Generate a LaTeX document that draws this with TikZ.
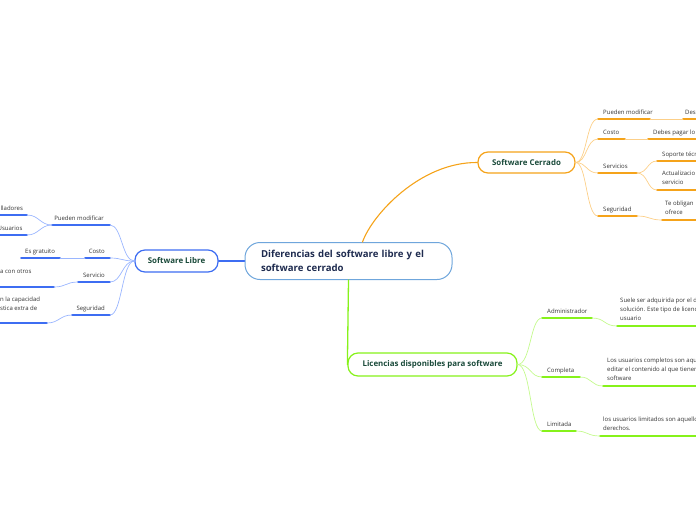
\documentclass[tikz,border=0pt]{standalone}
\usepackage{fontspec}
\setmainfont{Open Sans}
\definecolor{libreblue}{HTML}{3D6DF2}
\definecolor{librelight}{HTML}{9AB6FF}
\definecolor{cerradoorange}{HTML}{F5A31A}
\definecolor{cerradolight}{HTML}{FCCF88}
\definecolor{licgreen}{HTML}{86F21A}
\definecolor{liclight}{HTML}{C4FA8E}
\definecolor{centralblue}{HTML}{6FA6DC}
\definecolor{topictext}{HTML}{1A4A3A}
\definecolor{centraltext}{HTML}{1E2B4F}
\definecolor{labeltext}{HTML}{333333}

\begin{document}
\begin{tikzpicture}[x=1pt, y=-1pt, line cap=round, line join=round,
    topic/.style={draw, fill=white, rounded corners=10pt, line width=1.2pt, inner sep=0pt,
      minimum height=22pt, text=topictext, font=\fontsize{7.9}{9}\selectfont\bfseries},
    lbl/.style={inner sep=0pt, text=labeltext, font=\fontsize{6}{8.8}\selectfont},
    leaf/.style={lbl, align=left, anchor=south west},
    bul/.style={libreblue, line width=1.6pt},
    bcon/.style={librelight, line width=0.7pt},
    oul/.style={cerradoorange, line width=1.6pt},
    ocon/.style={cerradolight, line width=0.7pt},
    gul/.style={licgreen, line width=1.6pt},
    gcon/.style={liclight, line width=0.7pt}]
			\useasboundingbox (0,0) rectangle (696,520);
			\clip (0,0) rectangle (696,520);
			% central topic
			\node[draw=centralblue, fill=white, line width=1pt, rounded corners=15pt, minimum height=37pt,
			  inner xsep=16pt, text width=175pt, align=left, text=centraltext,
			  font=\fontsize{9.6}{14}\selectfont\bfseries] (central) at (348.5,261)
			  {Diferencias del software libre y el\\software cerrado};
			% main topics
			\node[topic, draw=libreblue, minimum width=83pt] (libre) at (176.5,261) {Software Libre};
			\node[topic, draw=cerradoorange, minimum width=97pt, minimum height=21pt] (cerrado) at (526.5,162.5) {Software Cerrado};
			\node[topic, draw=licgreen, minimum width=169pt, minimum height=23pt] (lic) at (432.5,364.5) {Licencias disponibles para software};
			% main connectors
			\draw[libreblue, line width=1.2pt] (central.west) -- (libre.east);
			\draw[cerradoorange, line width=1.1pt] ([xshift=14pt]central.north) .. controls (372,215) and (420,162) .. (cerrado.west);
			\draw[licgreen, line width=1.3pt] (central.south) -- (lic.west);
			% Software Libre: Pueden modificar
			\coordinate (lpmL) at (52,225); \coordinate (lpmR) at (110,225);
			\draw[bul] (lpmL) -- (lpmR);
			\node[lbl, anchor=base east] (lpm) at (104,220) {Pueden modificar};
			\draw[bcon] (libre.west) .. controls (122,261) and (122,225) .. (lpmR);
			\coordinate (ldevR) at (27,215); \coordinate (lusrR) at (27,235);
			\draw[bul] (-5,215) -- (ldevR);
			\draw[bul] (-5,235) -- (lusrR);
			\node[lbl, anchor=base west] (ldev) at (0.5,210) {lladores};
			\node[lbl, anchor=base west] (lusr) at (-2.5,230) {Usuarios};
			\draw[bcon] (lpmL) .. controls (40,225) and (39,215) .. (ldevR);
			\draw[bcon] (lpmL) .. controls (40,225) and (39,235) .. (lusrR);
			% Software Libre: Costo
			\coordinate (lcoL) at (85,258); \coordinate (lcoR) at (110,258);
			\draw[bul] (lcoL) -- (lcoR);
			\node[lbl, anchor=base east] (lco) at (105,253) {Costo};
			\draw[bcon] (libre.west) .. controls (122,261) and (122,258) .. (lcoR);
			\coordinate (lgrL) at (21,258); \coordinate (lgrR) at (60,258);
			\draw[bul] (lgrL) -- (lgrR);
			\node[lbl, anchor=base west] (lgr) at (25,253) {Es gratuito};
			\draw[bcon] (lgrR) -- (lcoL);
			% Software Libre: Servicio
			\coordinate (lseL) at (78,282); \coordinate (lseR) at (110,282);
			\draw[bul] (lseL) -- (lseR);
			\node[lbl, anchor=base east] (lse) at (105,277) {Servicio};
			\draw[bcon] (libre.west) .. controls (122,261) and (122,282) .. (lseR);
			\coordinate (lcomR) at (54,287);
			\draw[bul] (-5,287) -- (lcomR);
			\node[lbl, anchor=base west] (lcom) at (0,273) {a con otros};
			\draw[bcon] (lseL) .. controls (66,282) and (66,287) .. (lcomR);
			% Software Libre: Seguridad
			\coordinate (lsgL) at (72,315); \coordinate (lsgR) at (110,315);
			\draw[bul] (lsgL) -- (lsgR);
			\node[lbl, anchor=base east] (lsg) at (105,310) {Seguridad};
			\draw[bcon] (libre.west) .. controls (122,261) and (122,315) .. (lsgR);
			\coordinate (lcapR) at (47,323);
			\draw[bul] (-5,323) -- (lcapR);
			\node[leaf] (lcap) at (0,311) {n la capacidad\\stica extra de};
			\draw[bcon] (lsgL) .. controls (60,315) and (59,323) .. (lcapR);
			% Software Cerrado: Pueden modificar
			\coordinate (cpmL) at (598,119); \coordinate (cpmR) at (650,119);
			\draw[oul] (cpmL) -- (cpmR);
			\node[lbl, anchor=base west] (cpm) at (603,114) {Pueden modificar};
			\draw[ocon] (cerrado.east) .. controls (587,162.5) and (586,119) .. (cpmL);
			\coordinate (cdesL) at (683,119);
			\draw[oul] (cdesL) -- (700,119);
			\node[lbl, anchor=base west] (cdes) at (685,114) {Des};
			\draw[ocon] (cpmR) -- (cdesL);
			% Software Cerrado: Costo
			\coordinate (ccoL) at (598,139); \coordinate (ccoR) at (625,139);
			\draw[oul] (ccoL) -- (ccoR);
			\node[lbl, anchor=base west] (cco) at (603,134) {Costo};
			\draw[ocon] (cerrado.east) .. controls (587,162.5) and (586,139) .. (ccoL);
			\coordinate (cpagL) at (648,139);
			\draw[oul] (cpagL) -- (700,139);
			\node[lbl, anchor=base west] (cpag) at (653,134) {Debes pagar lo};
			\draw[ocon] (ccoR) -- (cpagL);
			% Software Cerrado: Servicios
			\coordinate (csvL) at (598,173); \coordinate (csvR) at (637,173);
			\draw[oul] (csvL) -- (csvR);
			\node[lbl, anchor=base west] (csv) at (603,168.5) {Servicios};
			\draw[ocon] (cerrado.east) .. controls (587,162.5) and (586,173) .. (csvL);
			\coordinate (csopL) at (657,161); \coordinate (cactL) at (657,190);
			\draw[oul] (csopL) -- (700,161);
			\draw[oul] (cactL) -- (700,190);
			\node[lbl, anchor=base west] (csop) at (662,156) {Soporte técn};
			\node[leaf] (cact) at (662,184.5) {Actualizacio\\servicio};
			\draw[ocon] (csvR) .. controls (648,173) and (647,161) .. (csopL);
			\draw[ocon] (csvR) .. controls (648,173) and (647,190) .. (cactL);
			% Software Cerrado: Seguridad
			\coordinate (csgL) at (598,216); \coordinate (csgR) at (637,216);
			\draw[oul] (csgL) -- (csgR);
			\node[lbl, anchor=base west] (csg) at (603,211) {Seguridad};
			\draw[ocon] (cerrado.east) .. controls (587,162.5) and (586,216) .. (csgL);
			\coordinate (cobL) at (662,220);
			\draw[oul] (cobL) -- (700,220);
			\node[leaf] (cob) at (665,214.5) {Te obligan\\ofrece};
			\draw[ocon] (csgR) .. controls (650,216) and (649,220) .. (cobL);
			% Licencias: Administrador
			\coordinate (gadL) at (542,318); \coordinate (gadR) at (592,318);
			\draw[gul] (gadL) -- (gadR);
			\node[lbl, anchor=base west] (gad) at (547,313) {Administrador};
			\draw[gcon] (lic.east) .. controls (531,364.5) and (530,318) .. (gadL);
			\coordinate (gsueL) at (617,326);
			\draw[gul] (gsueL) -- (700,326);
			\node[leaf] (gsue) at (620,320.5) {Suele ser adquirida por el d\\solución. Este tipo de licenc\\usuario};
			\draw[gcon] (gadR) .. controls (605,318) and (604,326) .. (gsueL);
			% Licencias: Completa
			\coordinate (gcoL) at (542,377); \coordinate (gcoR) at (580,377);
			\draw[gul] (gcoL) -- (gcoR);
			\node[lbl, anchor=base west] (gco) at (547,372) {Completa};
			\draw[gcon] (lic.east) .. controls (531,364.5) and (530,377) .. (gcoL);
			\coordinate (gusuL) at (603,386);
			\draw[gul] (gusuL) -- (700,386);
			\node[leaf] (gusu) at (607,380.5) {Los usuarios completos son aqu\\editar el contenido al que tienen\\software};
			\draw[gcon] (gcoR) .. controls (592,377) and (591,386) .. (gusuL);
			% Licencias: Limitada
			\coordinate (gliL) at (542,431); \coordinate (gliR) at (576,431);
			\draw[gul] (gliL) -- (gliR);
			\node[lbl, anchor=base west] (gli) at (547,426) {Limitada};
			\draw[gcon] (lic.east) .. controls (531,364.5) and (530,431) .. (gliL);
			\coordinate (glimL) at (600,436);
			\draw[gul] (glimL) -- (700,436);
			\node[leaf] (glim) at (603,430.5) {los usuarios limitados son aquello\\derechos.};
			\draw[gcon] (gliR) .. controls (588,431) and (587,436) .. (glimL);
		\end{tikzpicture}
\end{document}
